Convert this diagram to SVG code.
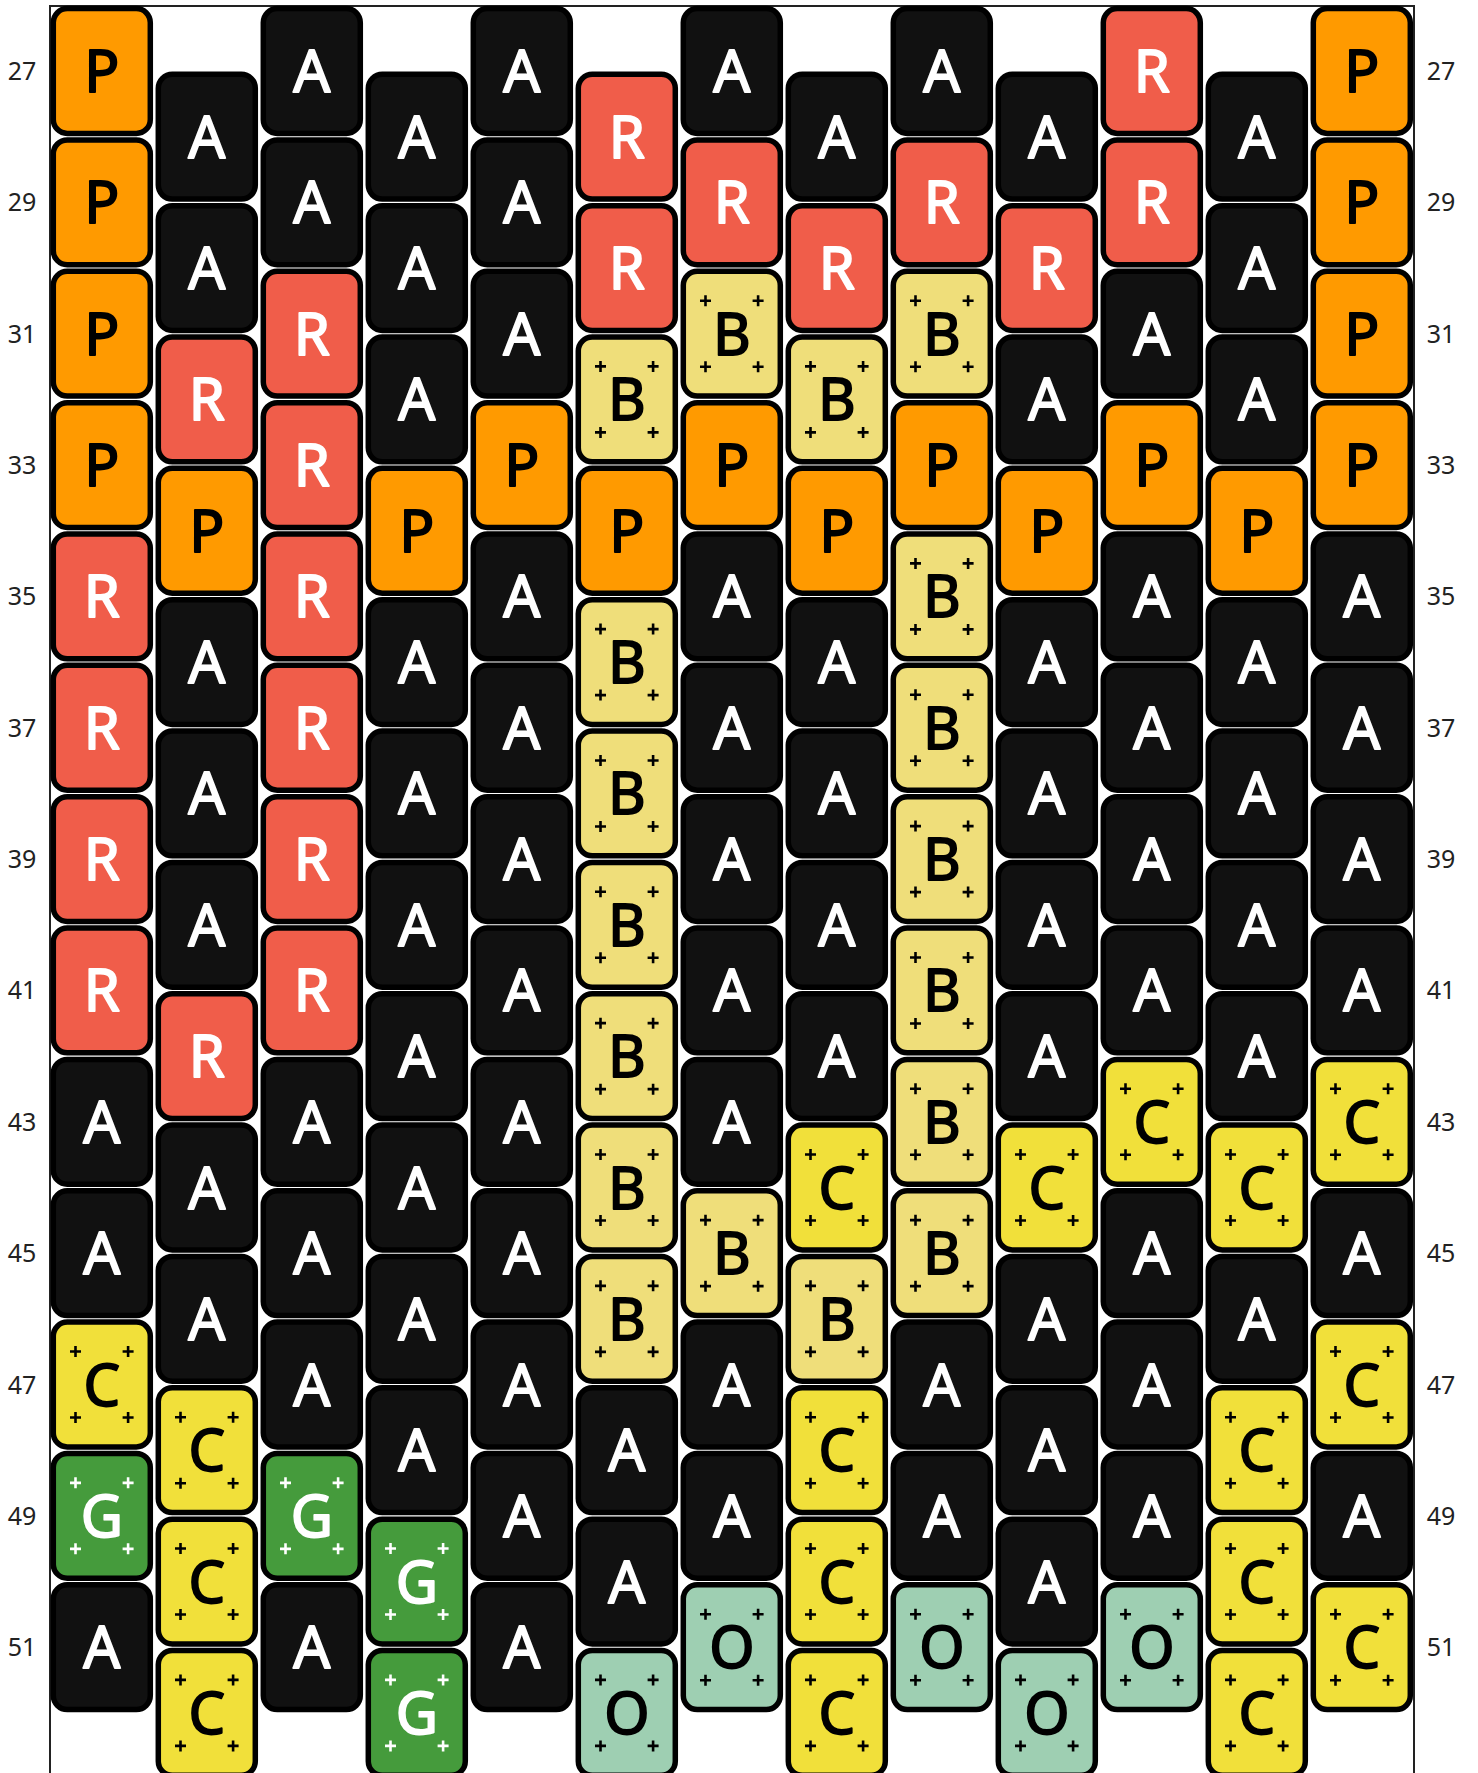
<svg xmlns="http://www.w3.org/2000/svg" xmlns:xlink="http://www.w3.org/1999/xlink" width="1478" height="1773" viewBox="0 0 1478 1773">
<style>
text{font-family:"Noto Sans","Open Sans","DejaVu Sans",sans-serif;text-anchor:middle}
.bead text{font-size:58px;font-weight:400;stroke-width:1.8;stroke-linejoin:round}
.lbl{font-size:25px;fill:#222}
.P use.b{fill:#FF9A00}.P text{fill:#000;stroke:#000}
.R use.b{fill:#F05D4A}.R text{fill:#fff;stroke:#fff}
.A use.b{fill:#111}.A text{fill:#fff;stroke:#fff}
.B use.b{fill:#EFDE7A}.B text{fill:#000;stroke:#000}
.C use.b{fill:#F1E03A}.C text{fill:#000;stroke:#000}
.G use.b{fill:#459B3C}.G text{fill:#fff;stroke:#fff}
.O use.b{fill:#9ECFB2}.O text{fill:#000;stroke:#000}
use.p{stroke:#000;stroke-width:2.6;fill:none}
.G use.p{stroke:#fff}
</style>
<defs>
<rect id="bd" x="-48.5" y="-62.4" width="97" height="124.8" rx="14" stroke="#000" stroke-width="5.5"/>
<path id="pl" d="M-31.8,-33h11M-26.3,-38.5v11M20.8,-33h11M26.3,-38.5v11M-31.8,33h11M-26.3,27.5v11M20.8,33h11M26.3,27.5v11"/>
</defs>
<rect id="frame" x="50" y="6" width="1364" height="1800" fill="none" stroke="#222" stroke-width="2"/>
<g id="labels">
<text class="lbl" x="22" y="80">27</text><text class="lbl" x="1441" y="80">27</text>
<text class="lbl" x="22" y="211.35">29</text><text class="lbl" x="1441" y="211.35">29</text>
<text class="lbl" x="22" y="342.7">31</text><text class="lbl" x="1441" y="342.7">31</text>
<text class="lbl" x="22" y="474.05">33</text><text class="lbl" x="1441" y="474.05">33</text>
<text class="lbl" x="22" y="605.4">35</text><text class="lbl" x="1441" y="605.4">35</text>
<text class="lbl" x="22" y="736.75">37</text><text class="lbl" x="1441" y="736.75">37</text>
<text class="lbl" x="22" y="868.1">39</text><text class="lbl" x="1441" y="868.1">39</text>
<text class="lbl" x="22" y="999.45">41</text><text class="lbl" x="1441" y="999.45">41</text>
<text class="lbl" x="22" y="1130.8">43</text><text class="lbl" x="1441" y="1130.8">43</text>
<text class="lbl" x="22" y="1262.15">45</text><text class="lbl" x="1441" y="1262.15">45</text>
<text class="lbl" x="22" y="1393.5">47</text><text class="lbl" x="1441" y="1393.5">47</text>
<text class="lbl" x="22" y="1524.85">49</text><text class="lbl" x="1441" y="1524.85">49</text>
<text class="lbl" x="22" y="1656.2">51</text><text class="lbl" x="1441" y="1656.2">51</text>
</g>
<g id="connectors"></g>
<g id="beads">
<!-- column 0 -->
<g id="c0-0" class="bead P" transform="translate(101.8,71)"><use class="b" href="#bd"/><text y="21">P</text></g>
<g id="c0-1" class="bead P" transform="translate(101.8,202.35)"><use class="b" href="#bd"/><text y="21">P</text></g>
<g id="c0-2" class="bead P" transform="translate(101.8,333.7)"><use class="b" href="#bd"/><text y="21">P</text></g>
<g id="c0-3" class="bead P" transform="translate(101.8,465.05)"><use class="b" href="#bd"/><text y="21">P</text></g>
<g id="c0-4" class="bead R" transform="translate(101.8,596.4)"><use class="b" href="#bd"/><text y="21">R</text></g>
<g id="c0-5" class="bead R" transform="translate(101.8,727.75)"><use class="b" href="#bd"/><text y="21">R</text></g>
<g id="c0-6" class="bead R" transform="translate(101.8,859.1)"><use class="b" href="#bd"/><text y="21">R</text></g>
<g id="c0-7" class="bead R" transform="translate(101.8,990.45)"><use class="b" href="#bd"/><text y="21">R</text></g>
<g id="c0-8" class="bead A" transform="translate(101.8,1121.8)"><use class="b" href="#bd"/><text y="21">A</text></g>
<g id="c0-9" class="bead A" transform="translate(101.8,1253.15)"><use class="b" href="#bd"/><text y="21">A</text></g>
<g id="c0-10" class="bead C" transform="translate(101.8,1384.5)"><use class="b" href="#bd"/><use class="p" href="#pl"/><text y="21">C</text></g>
<g id="c0-11" class="bead G" transform="translate(101.8,1515.85)"><use class="b" href="#bd"/><use class="p" href="#pl"/><text y="21">G</text></g>
<g id="c0-12" class="bead A" transform="translate(101.8,1647.2)"><use class="b" href="#bd"/><text y="21">A</text></g>
<!-- column 1 -->
<g id="c1-0" class="bead A" transform="translate(206.8,136.7)"><use class="b" href="#bd"/><text y="21">A</text></g>
<g id="c1-1" class="bead A" transform="translate(206.8,268.05)"><use class="b" href="#bd"/><text y="21">A</text></g>
<g id="c1-2" class="bead R" transform="translate(206.8,399.4)"><use class="b" href="#bd"/><text y="21">R</text></g>
<g id="c1-3" class="bead P" transform="translate(206.8,530.75)"><use class="b" href="#bd"/><text y="21">P</text></g>
<g id="c1-4" class="bead A" transform="translate(206.8,662.1)"><use class="b" href="#bd"/><text y="21">A</text></g>
<g id="c1-5" class="bead A" transform="translate(206.8,793.45)"><use class="b" href="#bd"/><text y="21">A</text></g>
<g id="c1-6" class="bead A" transform="translate(206.8,924.8)"><use class="b" href="#bd"/><text y="21">A</text></g>
<g id="c1-7" class="bead R" transform="translate(206.8,1056.15)"><use class="b" href="#bd"/><text y="21">R</text></g>
<g id="c1-8" class="bead A" transform="translate(206.8,1187.5)"><use class="b" href="#bd"/><text y="21">A</text></g>
<g id="c1-9" class="bead A" transform="translate(206.8,1318.85)"><use class="b" href="#bd"/><text y="21">A</text></g>
<g id="c1-10" class="bead C" transform="translate(206.8,1450.2)"><use class="b" href="#bd"/><use class="p" href="#pl"/><text y="21">C</text></g>
<g id="c1-11" class="bead C" transform="translate(206.8,1581.55)"><use class="b" href="#bd"/><use class="p" href="#pl"/><text y="21">C</text></g>
<g id="c1-12" class="bead C" transform="translate(206.8,1712.9)"><use class="b" href="#bd"/><use class="p" href="#pl"/><text y="21">C</text></g>
<!-- column 2 -->
<g id="c2-0" class="bead A" transform="translate(311.8,71)"><use class="b" href="#bd"/><text y="21">A</text></g>
<g id="c2-1" class="bead A" transform="translate(311.8,202.35)"><use class="b" href="#bd"/><text y="21">A</text></g>
<g id="c2-2" class="bead R" transform="translate(311.8,333.7)"><use class="b" href="#bd"/><text y="21">R</text></g>
<g id="c2-3" class="bead R" transform="translate(311.8,465.05)"><use class="b" href="#bd"/><text y="21">R</text></g>
<g id="c2-4" class="bead R" transform="translate(311.8,596.4)"><use class="b" href="#bd"/><text y="21">R</text></g>
<g id="c2-5" class="bead R" transform="translate(311.8,727.75)"><use class="b" href="#bd"/><text y="21">R</text></g>
<g id="c2-6" class="bead R" transform="translate(311.8,859.1)"><use class="b" href="#bd"/><text y="21">R</text></g>
<g id="c2-7" class="bead R" transform="translate(311.8,990.45)"><use class="b" href="#bd"/><text y="21">R</text></g>
<g id="c2-8" class="bead A" transform="translate(311.8,1121.8)"><use class="b" href="#bd"/><text y="21">A</text></g>
<g id="c2-9" class="bead A" transform="translate(311.8,1253.15)"><use class="b" href="#bd"/><text y="21">A</text></g>
<g id="c2-10" class="bead A" transform="translate(311.8,1384.5)"><use class="b" href="#bd"/><text y="21">A</text></g>
<g id="c2-11" class="bead G" transform="translate(311.8,1515.85)"><use class="b" href="#bd"/><use class="p" href="#pl"/><text y="21">G</text></g>
<g id="c2-12" class="bead A" transform="translate(311.8,1647.2)"><use class="b" href="#bd"/><text y="21">A</text></g>
<!-- column 3 -->
<g id="c3-0" class="bead A" transform="translate(416.8,136.7)"><use class="b" href="#bd"/><text y="21">A</text></g>
<g id="c3-1" class="bead A" transform="translate(416.8,268.05)"><use class="b" href="#bd"/><text y="21">A</text></g>
<g id="c3-2" class="bead A" transform="translate(416.8,399.4)"><use class="b" href="#bd"/><text y="21">A</text></g>
<g id="c3-3" class="bead P" transform="translate(416.8,530.75)"><use class="b" href="#bd"/><text y="21">P</text></g>
<g id="c3-4" class="bead A" transform="translate(416.8,662.1)"><use class="b" href="#bd"/><text y="21">A</text></g>
<g id="c3-5" class="bead A" transform="translate(416.8,793.45)"><use class="b" href="#bd"/><text y="21">A</text></g>
<g id="c3-6" class="bead A" transform="translate(416.8,924.8)"><use class="b" href="#bd"/><text y="21">A</text></g>
<g id="c3-7" class="bead A" transform="translate(416.8,1056.15)"><use class="b" href="#bd"/><text y="21">A</text></g>
<g id="c3-8" class="bead A" transform="translate(416.8,1187.5)"><use class="b" href="#bd"/><text y="21">A</text></g>
<g id="c3-9" class="bead A" transform="translate(416.8,1318.85)"><use class="b" href="#bd"/><text y="21">A</text></g>
<g id="c3-10" class="bead A" transform="translate(416.8,1450.2)"><use class="b" href="#bd"/><text y="21">A</text></g>
<g id="c3-11" class="bead G" transform="translate(416.8,1581.55)"><use class="b" href="#bd"/><use class="p" href="#pl"/><text y="21">G</text></g>
<g id="c3-12" class="bead G" transform="translate(416.8,1712.9)"><use class="b" href="#bd"/><use class="p" href="#pl"/><text y="21">G</text></g>
<!-- column 4 -->
<g id="c4-0" class="bead A" transform="translate(521.8,71)"><use class="b" href="#bd"/><text y="21">A</text></g>
<g id="c4-1" class="bead A" transform="translate(521.8,202.35)"><use class="b" href="#bd"/><text y="21">A</text></g>
<g id="c4-2" class="bead A" transform="translate(521.8,333.7)"><use class="b" href="#bd"/><text y="21">A</text></g>
<g id="c4-3" class="bead P" transform="translate(521.8,465.05)"><use class="b" href="#bd"/><text y="21">P</text></g>
<g id="c4-4" class="bead A" transform="translate(521.8,596.4)"><use class="b" href="#bd"/><text y="21">A</text></g>
<g id="c4-5" class="bead A" transform="translate(521.8,727.75)"><use class="b" href="#bd"/><text y="21">A</text></g>
<g id="c4-6" class="bead A" transform="translate(521.8,859.1)"><use class="b" href="#bd"/><text y="21">A</text></g>
<g id="c4-7" class="bead A" transform="translate(521.8,990.45)"><use class="b" href="#bd"/><text y="21">A</text></g>
<g id="c4-8" class="bead A" transform="translate(521.8,1121.8)"><use class="b" href="#bd"/><text y="21">A</text></g>
<g id="c4-9" class="bead A" transform="translate(521.8,1253.15)"><use class="b" href="#bd"/><text y="21">A</text></g>
<g id="c4-10" class="bead A" transform="translate(521.8,1384.5)"><use class="b" href="#bd"/><text y="21">A</text></g>
<g id="c4-11" class="bead A" transform="translate(521.8,1515.85)"><use class="b" href="#bd"/><text y="21">A</text></g>
<g id="c4-12" class="bead A" transform="translate(521.8,1647.2)"><use class="b" href="#bd"/><text y="21">A</text></g>
<!-- column 5 -->
<g id="c5-0" class="bead R" transform="translate(626.8,136.7)"><use class="b" href="#bd"/><text y="21">R</text></g>
<g id="c5-1" class="bead R" transform="translate(626.8,268.05)"><use class="b" href="#bd"/><text y="21">R</text></g>
<g id="c5-2" class="bead B" transform="translate(626.8,399.4)"><use class="b" href="#bd"/><use class="p" href="#pl"/><text y="21">B</text></g>
<g id="c5-3" class="bead P" transform="translate(626.8,530.75)"><use class="b" href="#bd"/><text y="21">P</text></g>
<g id="c5-4" class="bead B" transform="translate(626.8,662.1)"><use class="b" href="#bd"/><use class="p" href="#pl"/><text y="21">B</text></g>
<g id="c5-5" class="bead B" transform="translate(626.8,793.45)"><use class="b" href="#bd"/><use class="p" href="#pl"/><text y="21">B</text></g>
<g id="c5-6" class="bead B" transform="translate(626.8,924.8)"><use class="b" href="#bd"/><use class="p" href="#pl"/><text y="21">B</text></g>
<g id="c5-7" class="bead B" transform="translate(626.8,1056.15)"><use class="b" href="#bd"/><use class="p" href="#pl"/><text y="21">B</text></g>
<g id="c5-8" class="bead B" transform="translate(626.8,1187.5)"><use class="b" href="#bd"/><use class="p" href="#pl"/><text y="21">B</text></g>
<g id="c5-9" class="bead B" transform="translate(626.8,1318.85)"><use class="b" href="#bd"/><use class="p" href="#pl"/><text y="21">B</text></g>
<g id="c5-10" class="bead A" transform="translate(626.8,1450.2)"><use class="b" href="#bd"/><text y="21">A</text></g>
<g id="c5-11" class="bead A" transform="translate(626.8,1581.55)"><use class="b" href="#bd"/><text y="21">A</text></g>
<g id="c5-12" class="bead O" transform="translate(626.8,1712.9)"><use class="b" href="#bd"/><use class="p" href="#pl"/><text y="21">O</text></g>
<!-- column 6 -->
<g id="c6-0" class="bead A" transform="translate(731.8,71)"><use class="b" href="#bd"/><text y="21">A</text></g>
<g id="c6-1" class="bead R" transform="translate(731.8,202.35)"><use class="b" href="#bd"/><text y="21">R</text></g>
<g id="c6-2" class="bead B" transform="translate(731.8,333.7)"><use class="b" href="#bd"/><use class="p" href="#pl"/><text y="21">B</text></g>
<g id="c6-3" class="bead P" transform="translate(731.8,465.05)"><use class="b" href="#bd"/><text y="21">P</text></g>
<g id="c6-4" class="bead A" transform="translate(731.8,596.4)"><use class="b" href="#bd"/><text y="21">A</text></g>
<g id="c6-5" class="bead A" transform="translate(731.8,727.75)"><use class="b" href="#bd"/><text y="21">A</text></g>
<g id="c6-6" class="bead A" transform="translate(731.8,859.1)"><use class="b" href="#bd"/><text y="21">A</text></g>
<g id="c6-7" class="bead A" transform="translate(731.8,990.45)"><use class="b" href="#bd"/><text y="21">A</text></g>
<g id="c6-8" class="bead A" transform="translate(731.8,1121.8)"><use class="b" href="#bd"/><text y="21">A</text></g>
<g id="c6-9" class="bead B" transform="translate(731.8,1253.15)"><use class="b" href="#bd"/><use class="p" href="#pl"/><text y="21">B</text></g>
<g id="c6-10" class="bead A" transform="translate(731.8,1384.5)"><use class="b" href="#bd"/><text y="21">A</text></g>
<g id="c6-11" class="bead A" transform="translate(731.8,1515.85)"><use class="b" href="#bd"/><text y="21">A</text></g>
<g id="c6-12" class="bead O" transform="translate(731.8,1647.2)"><use class="b" href="#bd"/><use class="p" href="#pl"/><text y="21">O</text></g>
<!-- column 7 -->
<g id="c7-0" class="bead A" transform="translate(836.8,136.7)"><use class="b" href="#bd"/><text y="21">A</text></g>
<g id="c7-1" class="bead R" transform="translate(836.8,268.05)"><use class="b" href="#bd"/><text y="21">R</text></g>
<g id="c7-2" class="bead B" transform="translate(836.8,399.4)"><use class="b" href="#bd"/><use class="p" href="#pl"/><text y="21">B</text></g>
<g id="c7-3" class="bead P" transform="translate(836.8,530.75)"><use class="b" href="#bd"/><text y="21">P</text></g>
<g id="c7-4" class="bead A" transform="translate(836.8,662.1)"><use class="b" href="#bd"/><text y="21">A</text></g>
<g id="c7-5" class="bead A" transform="translate(836.8,793.45)"><use class="b" href="#bd"/><text y="21">A</text></g>
<g id="c7-6" class="bead A" transform="translate(836.8,924.8)"><use class="b" href="#bd"/><text y="21">A</text></g>
<g id="c7-7" class="bead A" transform="translate(836.8,1056.15)"><use class="b" href="#bd"/><text y="21">A</text></g>
<g id="c7-8" class="bead C" transform="translate(836.8,1187.5)"><use class="b" href="#bd"/><use class="p" href="#pl"/><text y="21">C</text></g>
<g id="c7-9" class="bead B" transform="translate(836.8,1318.85)"><use class="b" href="#bd"/><use class="p" href="#pl"/><text y="21">B</text></g>
<g id="c7-10" class="bead C" transform="translate(836.8,1450.2)"><use class="b" href="#bd"/><use class="p" href="#pl"/><text y="21">C</text></g>
<g id="c7-11" class="bead C" transform="translate(836.8,1581.55)"><use class="b" href="#bd"/><use class="p" href="#pl"/><text y="21">C</text></g>
<g id="c7-12" class="bead C" transform="translate(836.8,1712.9)"><use class="b" href="#bd"/><use class="p" href="#pl"/><text y="21">C</text></g>
<!-- column 8 -->
<g id="c8-0" class="bead A" transform="translate(941.8,71)"><use class="b" href="#bd"/><text y="21">A</text></g>
<g id="c8-1" class="bead R" transform="translate(941.8,202.35)"><use class="b" href="#bd"/><text y="21">R</text></g>
<g id="c8-2" class="bead B" transform="translate(941.8,333.7)"><use class="b" href="#bd"/><use class="p" href="#pl"/><text y="21">B</text></g>
<g id="c8-3" class="bead P" transform="translate(941.8,465.05)"><use class="b" href="#bd"/><text y="21">P</text></g>
<g id="c8-4" class="bead B" transform="translate(941.8,596.4)"><use class="b" href="#bd"/><use class="p" href="#pl"/><text y="21">B</text></g>
<g id="c8-5" class="bead B" transform="translate(941.8,727.75)"><use class="b" href="#bd"/><use class="p" href="#pl"/><text y="21">B</text></g>
<g id="c8-6" class="bead B" transform="translate(941.8,859.1)"><use class="b" href="#bd"/><use class="p" href="#pl"/><text y="21">B</text></g>
<g id="c8-7" class="bead B" transform="translate(941.8,990.45)"><use class="b" href="#bd"/><use class="p" href="#pl"/><text y="21">B</text></g>
<g id="c8-8" class="bead B" transform="translate(941.8,1121.8)"><use class="b" href="#bd"/><use class="p" href="#pl"/><text y="21">B</text></g>
<g id="c8-9" class="bead B" transform="translate(941.8,1253.15)"><use class="b" href="#bd"/><use class="p" href="#pl"/><text y="21">B</text></g>
<g id="c8-10" class="bead A" transform="translate(941.8,1384.5)"><use class="b" href="#bd"/><text y="21">A</text></g>
<g id="c8-11" class="bead A" transform="translate(941.8,1515.85)"><use class="b" href="#bd"/><text y="21">A</text></g>
<g id="c8-12" class="bead O" transform="translate(941.8,1647.2)"><use class="b" href="#bd"/><use class="p" href="#pl"/><text y="21">O</text></g>
<!-- column 9 -->
<g id="c9-0" class="bead A" transform="translate(1046.8,136.7)"><use class="b" href="#bd"/><text y="21">A</text></g>
<g id="c9-1" class="bead R" transform="translate(1046.8,268.05)"><use class="b" href="#bd"/><text y="21">R</text></g>
<g id="c9-2" class="bead A" transform="translate(1046.8,399.4)"><use class="b" href="#bd"/><text y="21">A</text></g>
<g id="c9-3" class="bead P" transform="translate(1046.8,530.75)"><use class="b" href="#bd"/><text y="21">P</text></g>
<g id="c9-4" class="bead A" transform="translate(1046.8,662.1)"><use class="b" href="#bd"/><text y="21">A</text></g>
<g id="c9-5" class="bead A" transform="translate(1046.8,793.45)"><use class="b" href="#bd"/><text y="21">A</text></g>
<g id="c9-6" class="bead A" transform="translate(1046.8,924.8)"><use class="b" href="#bd"/><text y="21">A</text></g>
<g id="c9-7" class="bead A" transform="translate(1046.8,1056.15)"><use class="b" href="#bd"/><text y="21">A</text></g>
<g id="c9-8" class="bead C" transform="translate(1046.8,1187.5)"><use class="b" href="#bd"/><use class="p" href="#pl"/><text y="21">C</text></g>
<g id="c9-9" class="bead A" transform="translate(1046.8,1318.85)"><use class="b" href="#bd"/><text y="21">A</text></g>
<g id="c9-10" class="bead A" transform="translate(1046.8,1450.2)"><use class="b" href="#bd"/><text y="21">A</text></g>
<g id="c9-11" class="bead A" transform="translate(1046.8,1581.55)"><use class="b" href="#bd"/><text y="21">A</text></g>
<g id="c9-12" class="bead O" transform="translate(1046.8,1712.9)"><use class="b" href="#bd"/><use class="p" href="#pl"/><text y="21">O</text></g>
<!-- column 10 -->
<g id="c10-0" class="bead R" transform="translate(1151.8,71)"><use class="b" href="#bd"/><text y="21">R</text></g>
<g id="c10-1" class="bead R" transform="translate(1151.8,202.35)"><use class="b" href="#bd"/><text y="21">R</text></g>
<g id="c10-2" class="bead A" transform="translate(1151.8,333.7)"><use class="b" href="#bd"/><text y="21">A</text></g>
<g id="c10-3" class="bead P" transform="translate(1151.8,465.05)"><use class="b" href="#bd"/><text y="21">P</text></g>
<g id="c10-4" class="bead A" transform="translate(1151.8,596.4)"><use class="b" href="#bd"/><text y="21">A</text></g>
<g id="c10-5" class="bead A" transform="translate(1151.8,727.75)"><use class="b" href="#bd"/><text y="21">A</text></g>
<g id="c10-6" class="bead A" transform="translate(1151.8,859.1)"><use class="b" href="#bd"/><text y="21">A</text></g>
<g id="c10-7" class="bead A" transform="translate(1151.8,990.45)"><use class="b" href="#bd"/><text y="21">A</text></g>
<g id="c10-8" class="bead C" transform="translate(1151.8,1121.8)"><use class="b" href="#bd"/><use class="p" href="#pl"/><text y="21">C</text></g>
<g id="c10-9" class="bead A" transform="translate(1151.8,1253.15)"><use class="b" href="#bd"/><text y="21">A</text></g>
<g id="c10-10" class="bead A" transform="translate(1151.8,1384.5)"><use class="b" href="#bd"/><text y="21">A</text></g>
<g id="c10-11" class="bead A" transform="translate(1151.8,1515.85)"><use class="b" href="#bd"/><text y="21">A</text></g>
<g id="c10-12" class="bead O" transform="translate(1151.8,1647.2)"><use class="b" href="#bd"/><use class="p" href="#pl"/><text y="21">O</text></g>
<!-- column 11 -->
<g id="c11-0" class="bead A" transform="translate(1256.8,136.7)"><use class="b" href="#bd"/><text y="21">A</text></g>
<g id="c11-1" class="bead A" transform="translate(1256.8,268.05)"><use class="b" href="#bd"/><text y="21">A</text></g>
<g id="c11-2" class="bead A" transform="translate(1256.8,399.4)"><use class="b" href="#bd"/><text y="21">A</text></g>
<g id="c11-3" class="bead P" transform="translate(1256.8,530.75)"><use class="b" href="#bd"/><text y="21">P</text></g>
<g id="c11-4" class="bead A" transform="translate(1256.8,662.1)"><use class="b" href="#bd"/><text y="21">A</text></g>
<g id="c11-5" class="bead A" transform="translate(1256.8,793.45)"><use class="b" href="#bd"/><text y="21">A</text></g>
<g id="c11-6" class="bead A" transform="translate(1256.8,924.8)"><use class="b" href="#bd"/><text y="21">A</text></g>
<g id="c11-7" class="bead A" transform="translate(1256.8,1056.15)"><use class="b" href="#bd"/><text y="21">A</text></g>
<g id="c11-8" class="bead C" transform="translate(1256.8,1187.5)"><use class="b" href="#bd"/><use class="p" href="#pl"/><text y="21">C</text></g>
<g id="c11-9" class="bead A" transform="translate(1256.8,1318.85)"><use class="b" href="#bd"/><text y="21">A</text></g>
<g id="c11-10" class="bead C" transform="translate(1256.8,1450.2)"><use class="b" href="#bd"/><use class="p" href="#pl"/><text y="21">C</text></g>
<g id="c11-11" class="bead C" transform="translate(1256.8,1581.55)"><use class="b" href="#bd"/><use class="p" href="#pl"/><text y="21">C</text></g>
<g id="c11-12" class="bead C" transform="translate(1256.8,1712.9)"><use class="b" href="#bd"/><use class="p" href="#pl"/><text y="21">C</text></g>
<!-- column 12 -->
<g id="c12-0" class="bead P" transform="translate(1361.8,71)"><use class="b" href="#bd"/><text y="21">P</text></g>
<g id="c12-1" class="bead P" transform="translate(1361.8,202.35)"><use class="b" href="#bd"/><text y="21">P</text></g>
<g id="c12-2" class="bead P" transform="translate(1361.8,333.7)"><use class="b" href="#bd"/><text y="21">P</text></g>
<g id="c12-3" class="bead P" transform="translate(1361.8,465.05)"><use class="b" href="#bd"/><text y="21">P</text></g>
<g id="c12-4" class="bead A" transform="translate(1361.8,596.4)"><use class="b" href="#bd"/><text y="21">A</text></g>
<g id="c12-5" class="bead A" transform="translate(1361.8,727.75)"><use class="b" href="#bd"/><text y="21">A</text></g>
<g id="c12-6" class="bead A" transform="translate(1361.8,859.1)"><use class="b" href="#bd"/><text y="21">A</text></g>
<g id="c12-7" class="bead A" transform="translate(1361.8,990.45)"><use class="b" href="#bd"/><text y="21">A</text></g>
<g id="c12-8" class="bead C" transform="translate(1361.8,1121.8)"><use class="b" href="#bd"/><use class="p" href="#pl"/><text y="21">C</text></g>
<g id="c12-9" class="bead A" transform="translate(1361.8,1253.15)"><use class="b" href="#bd"/><text y="21">A</text></g>
<g id="c12-10" class="bead C" transform="translate(1361.8,1384.5)"><use class="b" href="#bd"/><use class="p" href="#pl"/><text y="21">C</text></g>
<g id="c12-11" class="bead A" transform="translate(1361.8,1515.85)"><use class="b" href="#bd"/><text y="21">A</text></g>
<g id="c12-12" class="bead C" transform="translate(1361.8,1647.2)"><use class="b" href="#bd"/><use class="p" href="#pl"/><text y="21">C</text></g>
</g>
</svg>
